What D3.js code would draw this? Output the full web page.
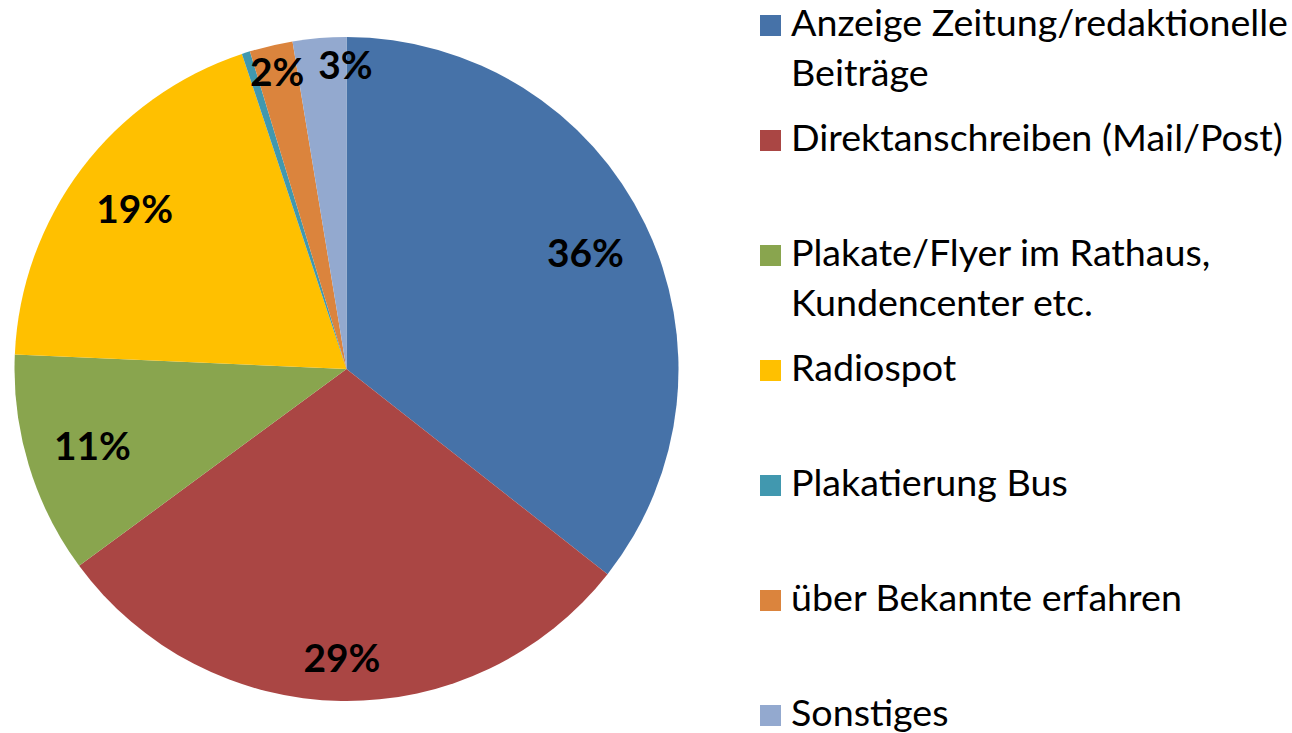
<!DOCTYPE html>
<html lang="de">
    <head>
        <meta charset="utf-8">
        <title>Pie Chart</title>
        <script type="text/javascript" src="https://d3js.org/d3.v7.min.js"></script>
        <style type="text/css">
            body { margin: 0; background: #fff; }
            text { font-family: Lato, "Open Sans", sans-serif; }
        </style>
    </head>
    <body>
        <script type="text/javascript">

        //Data
        const categories = [
            "Anzeige Zeitung/redaktionelle\nBeiträge",
            "Direktanschreiben (Mail/Post)",
            "Plakate/Flyer im Rathaus,\nKundencenter etc.",
            "Radiospot",
            "Plakatierung Bus",
            "über Bekannte erfahren",
            "Sonstiges"
        ];
        const values = [35.6, 29.3, 10.8, 19.2, 0.4, 2.1, 2.6];
        const colors = ["#4672A8", "#AA4644", "#89A54E", "#FFC000", "#4198AF", "#DB843D", "#93A9CF"];

        //Layout
        const width = 1292;
        const height = 733;
        const cx = 346.5, cy = 369, radius = 332;
        const legendX = 760, legendTop = 36, legendStep = 115, lineStep = 50, box = 21;

        const total = d3.sum(values);
        const pct = d3.format(".0%");

        const svg = d3.select("body")
                    .append("svg")
                    .attr("width", width)
                    .attr("height", height);

        const pie = d3.pie().sort(null).value(d => d)(values);
        const arc = d3.arc().innerRadius(0).outerRadius(radius);

        const g = svg.append("g").attr("transform", "translate(" + cx + "," + cy + ")");

        g.selectAll("path")
            .data(pie)
            .enter()
            .append("path")
            .attr("d", arc)
            .attr("fill", (d, i) => colors[i]);

        //Legend font size fitted to the widest entry
        const probe = svg.append("text").attr("font-size", 30).text("Direktanschreiben (Mail/Post)");
        const legendSize = 30 * 492 / probe.node().getComputedTextLength();
        probe.remove();

        const probe2 = svg.append("text").attr("font-size", 40).attr("font-weight", "bold").text("36%");
        const labelSize = 40 * 77 / probe2.node().getComputedTextLength();
        probe2.remove();

        //Labels: inside at 0.8 R, small slices near the rim, pushed apart if they collide
        const labels = [];
        pie.forEach((d, i) => {
            const text = pct(values[i] / total);
            if (text === "0%") return;
            const share = values[i] / total;
            let r = radius * (share < 0.05 ? 0.92 : (share > 0.25 && share < 0.33 ? 0.87 : 0.8));
            const a = (d.startAngle + d.endAngle) / 2;
            labels.push({text: text, x: Math.sin(a) * r, y: -Math.cos(a) * r + labelSize * 0.36});
        });

        const labelText = g.selectAll("text.lbl")
            .data(labels)
            .enter()
            .append("text")
            .attr("class", "lbl")
            .attr("text-anchor", "middle")
            .attr("font-size", labelSize)
            .attr("font-weight", "bold")
            .attr("fill", "#000")
            .attr("x", d => d.x)
            .attr("y", d => d.y)
            .text(d => d.text);

        const nodes = labelText.nodes();
        for (let k = 1; k < nodes.length; k++) {
            const prev = nodes[k - 1].getBBox(), cur = nodes[k].getBBox();
            const overlapY = Math.abs(prev.y - cur.y) < prev.height;
            const gap = 14;
            if (overlapY && cur.x < prev.x + prev.width + gap) {
                const shift = prev.x + prev.width + gap - cur.x;
                d3.select(nodes[k]).attr("x", +nodes[k].getAttribute("x") + shift);
            }
        }

        //Legend
        const legend = svg.append("g");
        categories.forEach((c, i) => {
            const base = legendTop + i * legendStep;
            legend.append("rect")
                .attr("x", legendX)
                .attr("y", base - box)
                .attr("width", box)
                .attr("height", box)
                .attr("fill", colors[i]);
            const t = legend.append("text")
                .attr("x", legendX + 31)
                .attr("y", base)
                .attr("font-size", legendSize)
                .attr("fill", "#000");
            c.split("\n").forEach((line, j) => {
                t.append("tspan")
                    .attr("x", legendX + 31)
                    .attr("y", base + j * lineStep)
                    .text(line);
            });
        });

        </script>
    </body>
</html>
